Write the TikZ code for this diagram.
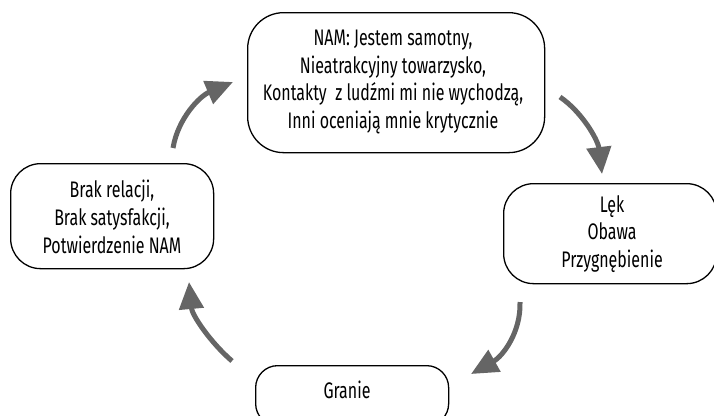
\documentclass[tikz,border=0pt]{standalone}
\usepackage{fontspec}
\setmainfont{Fira Sans}[FakeStretch=0.71]
\usetikzlibrary{arrows.meta}
\definecolor{arrowgray}{HTML}{656565}
\tikzset{
  box/.style={draw=black, line width=1.3pt, inner sep=0pt},
  cyc/.style={draw=arrowgray, line width=5pt, -{Triangle[length=27pt,width=24pt]}},
  txt/.style={align=center, font=\fontsize{22.5}{27.7}\selectfont}
}
\begin{document}
\begin{tikzpicture}[x=1pt,y=-1pt]
\useasboundingbox (0,0) rectangle (714,415);
\clip (0,0) rectangle (714,415);
% boxes
\node[box, rounded corners=36pt, minimum width=297pt, minimum height=140pt, anchor=north west] (nam) at (247,12) {};
\node[txt] (namtxt) at (393,82) {NAM: Jestem samotny,\\Nieatrakcyjny towarzysko,\\Kontakty\ \ z ludźmi mi nie wychodzą,\\Inni oceniają mnie krytycznie};
\node[box, rounded corners=30pt, minimum width=213pt, minimum height=100pt, anchor=north west] (lek) at (503,183) {};
\node[txt] (lektxt) at (612,234) {Lęk\\Obawa\\Przygnębienie};
\node[box, rounded corners=22pt, minimum width=193pt, minimum height=60pt, anchor=north west] (gra) at (255,365) {};
\node[txt] (gratxt) at (347,390) {Granie};
\node[box, rounded corners=30pt, minimum width=203pt, minimum height=105pt, anchor=north west] (brak) at (10,163) {};
\node[txt] (braktxt) at (112,217) {Brak relacji,\\Brak satysfakcji,\\Potwierdzenie NAM};
% arrows
\coordinate (a1s) at (173,148); \coordinate (a1e) at (233,82);
\coordinate (a2s) at (560,97);  \coordinate (a2e) at (602,174);
\coordinate (a3s) at (520,302); \coordinate (a3e) at (471,374);
\coordinate (a4s) at (232,361); \coordinate (a4e) at (189,282);
\draw[cyc] (a1s) .. controls (178,118) and (200,96) .. (a1e);
\draw[cyc] (a2s) .. controls (582,112) and (598,140) .. (a2e);
\draw[cyc] (a3s) .. controls (521,332) and (503,356) .. (a3e);
\draw[cyc] (a4s) .. controls (210,342) and (192,315) .. (a4e);
\end{tikzpicture}
\end{document}
